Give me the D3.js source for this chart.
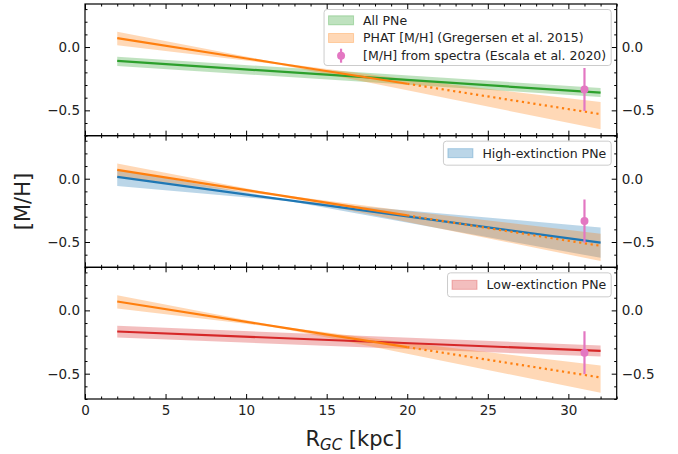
<!DOCTYPE html>
<html><head><meta charset="utf-8">
<script src="https://cdn.jsdelivr.net/npm/d3@7"></script>
<style>body{margin:0;background:#fff} text{font-family:"DejaVu Sans",sans-serif}</style>
</head><body><svg id="c" width="678" height="454"></svg>
<script>
// ---- data ----
const xTicks = [0, 5, 10, 15, 20, 25, 30];
const yTicks = [0.0, -0.5];
const xMinor = [1,2,3,4,6,7,8,9,11,12,13,14,16,17,18,19,21,22,23,24,26,27,28,29,31,32,33];
const yMinor = [-0.7,-0.6,-0.4,-0.3,-0.2,-0.1,0.1,0.2,0.3];

// PHAT [M/H] gradient (Gregersen et al. 2015)
const rPHAT   = [2, 12, 20, 32];
const phatMid = [0.07, -0.13, -0.29, -0.53];
const phatHi  = [0.12, -0.125, -0.255, -0.435];
const phatLo  = [0.015, -0.137, -0.342, -0.65];
const phatSolidMax = 20;

// All PNe
const rAll   = [2, 32];
const allMid = [-0.11, -0.36];
const allHi  = [-0.077, -0.323];
const allLo  = [-0.15, -0.395];

// High-extinction PNe
const rHigh   = [2, 12.7, 32];
const highMid = [0.014, -0.171, -0.505];
const highHi  = [0.075, -0.17, -0.385];
const highLo  = [-0.058, -0.178, -0.625];

// Low-extinction PNe
const rLow   = [2, 32];
const lowMid = [-0.167, -0.32];
const lowHi  = [-0.122, -0.278];
const lowLo  = [-0.215, -0.365];

// [M/H] from spectra (Escala et al. 2020)
const escalaR = 31, escalaMH = -0.335, escalaErr = 0.17;

const labels = ["All PNe", "High-extinction PNe", "Low-extinction PNe"];
const phatLabel = "PHAT [M/H] (Gregersen et al. 2015)";
const escalaLabel = "[M/H] from spectra (Escala et al. 2020)";

// ---- layout ----
const W = 678, H = 454;
const left = 85, right = 616.7, top0 = 4, bottom = 399;
const ph = (bottom - top0) / 3;
const C = {green:"#2ca02c", orange:"#ff7f0e", blue:"#1f77b4", red:"#d62728", pink:"#e377c2"};

const svg = d3.select("#c");
const x = d3.scaleLinear().domain([0, 33]).range([left, right]);

function zipS(r, mid, hi, lo){ return r.map((v,i)=>({r:v, mid:mid[i], hi:hi[i], lo:lo[i]})); }

const panels = [
  {label: labels[0], color: C.green, data: zipS(rAll, allMid, allHi, allLo), legendAll: true},
  {label: labels[1], color: C.blue,  data: zipS(rHigh, highMid, highHi, highLo)},
  {label: labels[2], color: C.red,   data: zipS(rLow, lowMid, lowHi, lowLo)}
];
const phat = zipS(rPHAT, phatMid, phatHi, phatLo);

panels.forEach((p, i) => {
  const t = top0 + i * ph;
  const y = d3.scaleLinear().domain([-0.7, 0.34]).range([t + ph, t]);
  const g = svg.append("g");
  const cid = "clip" + i;
  svg.append("clipPath").attr("id", cid).append("rect")
    .attr("x", left).attr("y", t).attr("width", right - left).attr("height", ph);
  const pg = g.append("g").attr("clip-path", `url(#${cid})`);

  const area = d3.area().x(d => x(d.r)).y0(d => y(d.lo)).y1(d => y(d.hi));
  const line = d3.line().x(d => x(d.r)).y(d => y(d.mid));

  pg.append("path").datum(p.data).attr("d", area)
    .attr("fill", p.color).attr("fill-opacity", 0.3);
  pg.append("path").datum(phat).attr("d", area)
    .attr("fill", C.orange).attr("fill-opacity", 0.3);
  pg.append("path").datum(p.data).attr("d", line)
    .attr("fill", "none").attr("stroke", p.color).attr("stroke-width", 2.2);
  pg.append("path").datum(phat.filter(d => d.r <= phatSolidMax)).attr("d", line)
    .attr("fill", "none").attr("stroke", C.orange).attr("stroke-width", 2.2);
  pg.append("path").datum(phat.filter(d => d.r >= phatSolidMax)).attr("d", line)
    .attr("fill", "none").attr("stroke", C.orange).attr("stroke-width", 2.2)
    .attr("stroke-dasharray", "2.2,3.6");

  // error bar
  pg.append("line").attr("x1", x(escalaR)).attr("x2", x(escalaR))
    .attr("y1", y(escalaMH + escalaErr)).attr("y2", y(escalaMH - escalaErr))
    .attr("stroke", C.pink).attr("stroke-width", 2.2);
  pg.append("circle").attr("cx", x(escalaR)).attr("cy", y(escalaMH)).attr("r", 4)
    .attr("fill", C.pink);

  // axes
  const styleAx = sel => { sel.select(".domain").remove(); sel.selectAll("line").attr("stroke","#000"); sel.selectAll("text").attr("font-size","13.5px").attr("fill","#222"); };
  g.append("g").attr("transform", `translate(${left},0)`)
    .call(d3.axisLeft(y).tickValues(yTicks).tickSize(-5).tickPadding(5).tickFormat(d3.format(".1f"))).call(styleAx);
  g.append("g").attr("transform", `translate(${left},0)`)
    .call(d3.axisLeft(y).tickValues(yMinor).tickSize(-2.5).tickFormat("")).call(styleAx);
  g.append("g").attr("transform", `translate(${right},0)`)
    .call(d3.axisRight(y).tickValues(yTicks).tickSize(-5).tickPadding(5).tickFormat(d3.format(".1f"))).call(styleAx);
  g.append("g").attr("transform", `translate(${right},0)`)
    .call(d3.axisRight(y).tickValues(yMinor).tickSize(-2.5).tickFormat("")).call(styleAx);
  g.append("g").attr("transform", `translate(0,${t + ph})`)
    .call(d3.axisBottom(x).tickValues(xTicks).tickSize(-5).tickPadding(6.5)
      .tickFormat(i === 2 ? d3.format("d") : "")).call(styleAx);
  g.append("g").attr("transform", `translate(0,${t + ph})`)
    .call(d3.axisBottom(x).tickValues(xMinor).tickSize(-2.5).tickFormat("")).call(styleAx);
  g.append("g").attr("transform", `translate(0,${t})`)
    .call(d3.axisTop(x).tickValues(xTicks).tickSize(-5).tickFormat("")).call(styleAx);
  g.append("g").attr("transform", `translate(0,${t})`)
    .call(d3.axisTop(x).tickValues(xMinor).tickSize(-2.5).tickFormat("")).call(styleAx);

  g.append("rect").attr("x", left).attr("y", t).attr("width", right - left).attr("height", ph)
    .attr("fill", "none").attr("stroke", "#000").attr("stroke-width", 1.2);

  // legend
  const items = p.legendAll
    ? [{t: p.label, c: p.color, k: "patch"}, {t: phatLabel, c: C.orange, k: "patch"}, {t: escalaLabel, c: C.pink, k: "err"}]
    : [{t: p.label, c: p.color, k: "patch"}];
  const lg = g.append("g");
  const box = lg.append("rect");
  const fs = 12.5, rowH = 17.7, pad = 5;
  const texts = [];
  items.forEach((it, j) => {
    const cy = t + 5.5 + pad + 5.8 + j * rowH;
    it.cy = cy;
    texts.push(lg.append("text").attr("font-size", fs + "px").attr("fill", "#222")
      .attr("dy", "0.35em").attr("y", cy).text(it.t));
  });
  const maxW = d3.max(texts, s => s.node().getComputedTextLength());
  const boxRight = right - 5.5;
  const boxW = 4.5 + 25 + 9.5 + maxW + 5;
  const boxL = boxRight - boxW;
  const boxT = t + 5.5;
  const boxH = items.length === 1 ? 24 : 56;
  box.attr("x", boxL).attr("y", boxT).attr("width", boxW).attr("height", boxH)
    .attr("rx", 3).attr("fill", "#fff").attr("fill-opacity", 0.8)
    .attr("stroke", "#cccccc").attr("stroke-width", 1);
  items.forEach((it, j) => {
    const cy = items.length === 1 ? boxT + boxH / 2 : it.cy;
    texts[j].attr("x", boxL + 4.5 + 25 + 9.5).attr("y", cy);
    if (it.k === "patch") {
      lg.append("rect").attr("x", boxL + 4.5).attr("y", cy - 4.5).attr("width", 25).attr("height", 9)
        .attr("fill", it.c).attr("fill-opacity", 0.3).attr("stroke", it.c).attr("stroke-opacity", 0.3);
    } else {
      const cx = boxL + 4.5 + 12.5;
      lg.append("line").attr("x1", cx).attr("x2", cx).attr("y1", cy - 7).attr("y2", cy + 7)
        .attr("stroke", it.c).attr("stroke-width", 2.2);
      lg.append("circle").attr("cx", cx).attr("cy", cy).attr("r", 4).attr("fill", it.c);
    }
  });
});

// axis labels
const xl = svg.append("text").attr("x", (left + right) / 2 + 3).attr("y", 446)
  .attr("text-anchor", "middle").attr("font-size", "21px").attr("fill", "#222");
xl.append("tspan").text("R");
xl.append("tspan").attr("font-size", "15px").attr("font-style", "italic").attr("dy", 4).text("GC");
xl.append("tspan").attr("dy", -4).text(" [kpc]");

svg.append("text").attr("transform", `translate(30,${(top0 + bottom) / 2}) rotate(-90)`)
  .attr("text-anchor", "middle").attr("font-size", "21px").attr("fill", "#222").text("[M/H]");
</script></body></html>
